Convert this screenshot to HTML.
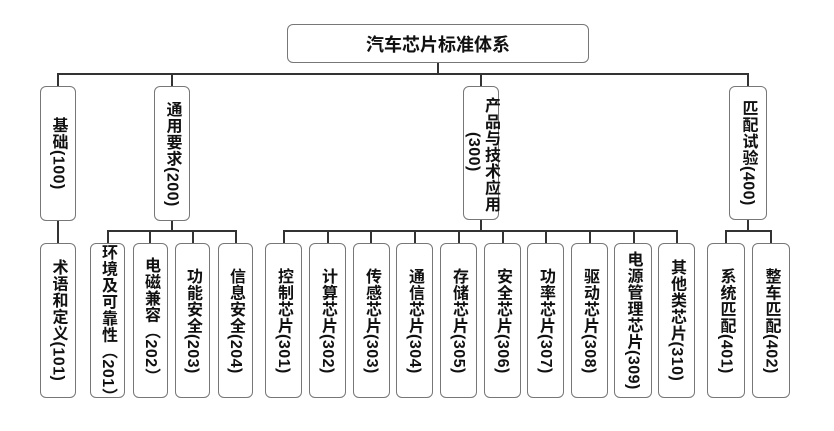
<!DOCTYPE html>
<html><head><meta charset="utf-8"><style>
body{margin:0;width:834px;height:431px;background:#fff;position:relative;overflow:hidden;font-family:"Liberation Sans","Noto Sans CJK SC",sans-serif;}
.b{position:absolute;box-sizing:border-box;border:1px solid #777;border-radius:6px;background:#fff;display:flex;align-items:center;justify-content:center;}
.v{writing-mode:vertical-rl;font-weight:bold;font-size:16px;line-height:17px;color:#111;letter-spacing:0.5px;}
.l{position:absolute;background:#333;}
</style></head><body>
<div class="b" style="left:287px;top:24px;width:302px;height:39px;font-weight:bold;font-size:18px;color:#111;">汽车芯片标准体系</div>
<div class="l" style="left:437px;top:63px;width:2px;height:11px"></div>
<div class="l" style="left:57px;top:73px;width:691px;height:2px"></div>
<div class="l" style="left:57px;top:73px;width:2px;height:13px"></div>
<div class="l" style="left:171px;top:73px;width:2px;height:13px"></div>
<div class="l" style="left:480px;top:73px;width:2px;height:13px"></div>
<div class="l" style="left:747px;top:73px;width:2px;height:13px"></div>
<div class="l" style="left:57px;top:221px;width:2px;height:22px"></div>
<div class="l" style="left:171px;top:220px;width:2px;height:11px"></div>
<div class="l" style="left:107px;top:230px;width:130px;height:2px"></div>
<div class="l" style="left:107px;top:230px;width:2px;height:13px"></div>
<div class="l" style="left:149px;top:230px;width:2px;height:13px"></div>
<div class="l" style="left:192px;top:230px;width:2px;height:13px"></div>
<div class="l" style="left:235px;top:230px;width:2px;height:13px"></div>
<div class="l" style="left:480px;top:220px;width:2px;height:11px"></div>
<div class="l" style="left:283px;top:230px;width:395px;height:2px"></div>
<div class="l" style="left:283px;top:230px;width:2px;height:13px"></div>
<div class="l" style="left:327px;top:230px;width:2px;height:13px"></div>
<div class="l" style="left:370px;top:230px;width:2px;height:13px"></div>
<div class="l" style="left:414px;top:230px;width:2px;height:13px"></div>
<div class="l" style="left:458px;top:230px;width:2px;height:13px"></div>
<div class="l" style="left:502px;top:230px;width:2px;height:13px"></div>
<div class="l" style="left:545px;top:230px;width:2px;height:13px"></div>
<div class="l" style="left:589px;top:230px;width:2px;height:13px"></div>
<div class="l" style="left:633px;top:230px;width:2px;height:13px"></div>
<div class="l" style="left:676px;top:230px;width:2px;height:13px"></div>
<div class="l" style="left:747px;top:220px;width:2px;height:11px"></div>
<div class="l" style="left:725px;top:230px;width:47px;height:2px"></div>
<div class="l" style="left:725px;top:230px;width:2px;height:13px"></div>
<div class="l" style="left:770px;top:230px;width:2px;height:13px"></div>
<div class="b" style="left:40px;top:86px;width:36px;height:135px"><span class="v">基础(100)</span></div>
<div class="b" style="left:154px;top:86px;width:36px;height:135px"><span class="v">通用要求(200)</span></div>
<div class="b" style="left:463px;top:86px;width:36px;height:134px"></div>
<span class="v" style="position:absolute;left:482px;top:97px;white-space:nowrap">产品与技术应用</span>
<span class="v" style="position:absolute;left:465px;top:132px;white-space:nowrap">(300)</span>
<div class="b" style="left:729px;top:86px;width:38px;height:134px"><span class="v">匹配试验(400)</span></div>
<div class="b" style="left:40px;top:243px;width:36px;height:155px"><span class="v">术语和定义(101)</span></div>
<div class="b" style="left:90px;top:243px;width:35px;height:155px"><span class="v">环境及可靠性（201）</span></div>
<div class="b" style="left:133px;top:243px;width:35px;height:155px"><span class="v">电磁兼容（202）</span></div>
<div class="b" style="left:175px;top:243px;width:35px;height:155px"><span class="v">功能安全(203)</span></div>
<div class="b" style="left:218px;top:243px;width:35px;height:155px"><span class="v">信息安全(204)</span></div>
<div class="b" style="left:265px;top:243px;width:37px;height:155px"><span class="v">控制芯片(301)</span></div>
<div class="b" style="left:309px;top:243px;width:37px;height:155px"><span class="v">计算芯片(302)</span></div>
<div class="b" style="left:353px;top:243px;width:37px;height:155px"><span class="v">传感芯片(303)</span></div>
<div class="b" style="left:396px;top:243px;width:37px;height:155px"><span class="v">通信芯片(304)</span></div>
<div class="b" style="left:440px;top:243px;width:37px;height:155px"><span class="v">存储芯片(305)</span></div>
<div class="b" style="left:484px;top:243px;width:37px;height:155px"><span class="v">安全芯片(306)</span></div>
<div class="b" style="left:527px;top:243px;width:37px;height:155px"><span class="v">功率芯片(307)</span></div>
<div class="b" style="left:571px;top:243px;width:37px;height:155px"><span class="v">驱动芯片(308)</span></div>
<div class="b" style="left:614px;top:243px;width:38px;height:155px"><span class="v">电源管理芯片(309)</span></div>
<div class="b" style="left:658px;top:243px;width:37px;height:155px"><span class="v">其他类芯片(310)</span></div>
<div class="b" style="left:707px;top:243px;width:38px;height:155px"><span class="v">系统匹配(401)</span></div>
<div class="b" style="left:752px;top:243px;width:38px;height:155px"><span class="v">整车匹配(402)</span></div>
</body></html>
